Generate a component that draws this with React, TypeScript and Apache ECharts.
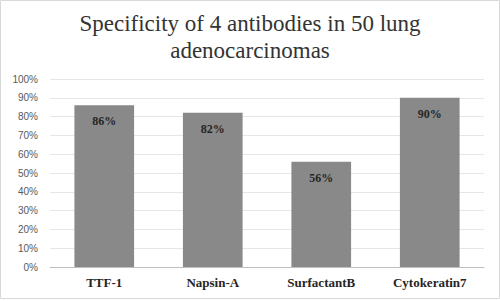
import React, { useEffect, useRef } from "react";
import * as echarts from "echarts";

const categories = ["TTF-1", "Napsin-A", "SurfactantB", "Cytokeratin7"];
const specificity = [86, 82, 56, 90];
const titleLines = ["Specificity of 4 antibodies in 50 lung", "adenocarcinomas"];

export default function App() {
  const ref = useRef<HTMLDivElement>(null);
  useEffect(() => {
    const chart = echarts.init(ref.current!, null, { renderer: "svg" });
    chart.setOption({
      animation: false,
      backgroundColor: "#ffffff",
      title: {
        text: titleLines.join("\n"),
        left: "center",
        top: 5,
        textStyle: {
          fontFamily: "Liberation Serif",
          fontSize: 23,
          fontWeight: "normal",
          color: "#333333",
          lineHeight: 27,
        },
      },
      graphic: [
        {
          type: "rect",
          shape: { x: 0.5, y: 0.5, width: 499, height: 298 },
          style: { fill: "none", stroke: "#d9d9d9", lineWidth: 1 },
          silent: true,
        },
      ],
      grid: { left: 50, right: 16, top: 79, bottom: 34 },
      xAxis: {
        type: "category",
        data: categories,
        axisTick: { show: false },
        axisLine: { lineStyle: { color: "#bfbfbf", width: 1 } },
        axisLabel: {
          fontFamily: "Liberation Serif",
          fontWeight: "bold",
          fontSize: 13,
          color: "#262626",
          margin: 9,
        },
      },
      yAxis: {
        type: "value",
        min: 0,
        max: 100,
        interval: 10,
        axisLine: { show: false },
        axisTick: { show: false },
        splitLine: { lineStyle: { color: "#e6e6e6", width: 1 } },
        axisLabel: {
          formatter: "{value}%",
          fontFamily: "Liberation Sans",
          fontSize: 10,
          color: "#595959",
          margin: 12,
        },
      },
      series: [
        {
          type: "bar",
          data: specificity,
          barWidth: "55%",
          itemStyle: { color: "#898989" },
          label: {
            show: true,
            position: "insideTop",
            distance: 10,
            formatter: "{c}%",
            fontFamily: "Liberation Serif",
            fontWeight: "bold",
            fontSize: 12,
            color: "#262626",
          },
        },
      ],
    });
    return () => chart.dispose();
  }, []);
  return <div ref={ref} style={{ width: 500, height: 301, position: "absolute", left: 0, top: 0 }} />;
}
